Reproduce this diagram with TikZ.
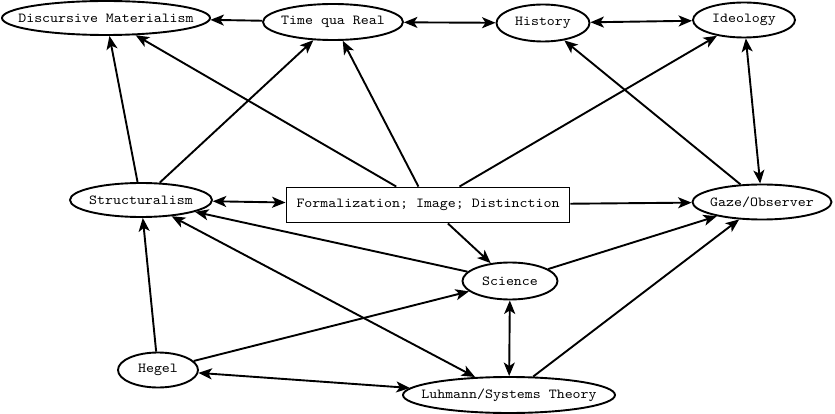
\documentclass[tikz,border=0pt]{standalone}
\usepackage{fontspec}
\newfontfamily\courfont{lmmono10-regular.otf}[FakeStretch=1.1]
\usetikzlibrary{shapes.geometric,arrows.meta}
\begin{document}
\begin{tikzpicture}[x=1pt,y=-1pt,
  lbl/.style={font=\courfont\fontsize{13.8}{15}\selectfont},
  el/.style={ellipse,draw,line width=1.9pt,inner sep=0pt},
  bx/.style={rectangle,draw,line width=1.9pt,inner sep=0pt,lbl},
  tip/.tip={Stealth[length=13.5pt,width=11pt,inset=3.5pt]},
  ar/.style={line width=1.9pt,-tip},
  dar/.style={line width=1.9pt,tip-tip},
  every label/.style={lbl}]
\useasboundingbox (0,0) rectangle (835,414);
\node[el,minimum width=208pt,minimum height=34pt,label=center:{Discursive Materialism}] (dm) at (106,18) {};
\node[el,minimum width=140pt,minimum height=36pt,label=center:{Time qua Real}] (tq) at (333,22) {};
\node[el,minimum width=93pt,minimum height=37pt,label=center:{History}] (hi) at (543,23) {};
\node[el,minimum width=102pt,minimum height=35pt,label=center:{Ideology}] (id) at (744,20) {};
\node[el,minimum width=142pt,minimum height=34pt,label=center:{Structuralism}] (st) at (141,200) {};
\node[bx,minimum width=283pt,minimum height=35pt] (fo) at (428,205) {Formalization; Image; Distinction};
\node[el,minimum width=139pt,minimum height=35pt,label=center:{Gaze/Observer}] (ga) at (762,202) {};
\node[el,minimum width=95pt,minimum height=37pt,label=center:{Science}] (sc) at (510,281) {};
\node[el,minimum width=80pt,minimum height=35pt,label=center:{Hegel}] (he) at (158,370) {};
\node[el,minimum width=212pt,minimum height=36pt,label=center:{Luhmann/Systems Theory}] (lu) at (509,395) {};

\draw[ar] (tq) -- (dm);
\draw[dar] (tq) -- (hi);
\draw[dar] (hi) -- (id);
\draw[ar] (st) -- (dm);
\draw[ar] (fo) -- (dm);
\draw[ar] (st) -- (tq);
\draw[ar] (fo) -- (tq);
\draw[ar] (fo) -- (id);
\draw[ar] (ga) -- (hi);
\draw[dar] (id) -- (ga);
\draw[dar] (st) -- (fo);
\draw[ar] (fo) -- (ga);
\draw[ar] (fo) -- (sc);
\draw[ar] (sc) -- (st);
\draw[ar] (sc) -- (ga);
\draw[dar] (st) -- (lu);
\draw[ar] (he) -- (st);
\draw[ar] (he) -- (sc);
\draw[dar] (he) -- (lu);
\draw[dar] (sc) -- (lu);
\draw[ar] (lu) -- (ga);
\end{tikzpicture}
\end{document}
